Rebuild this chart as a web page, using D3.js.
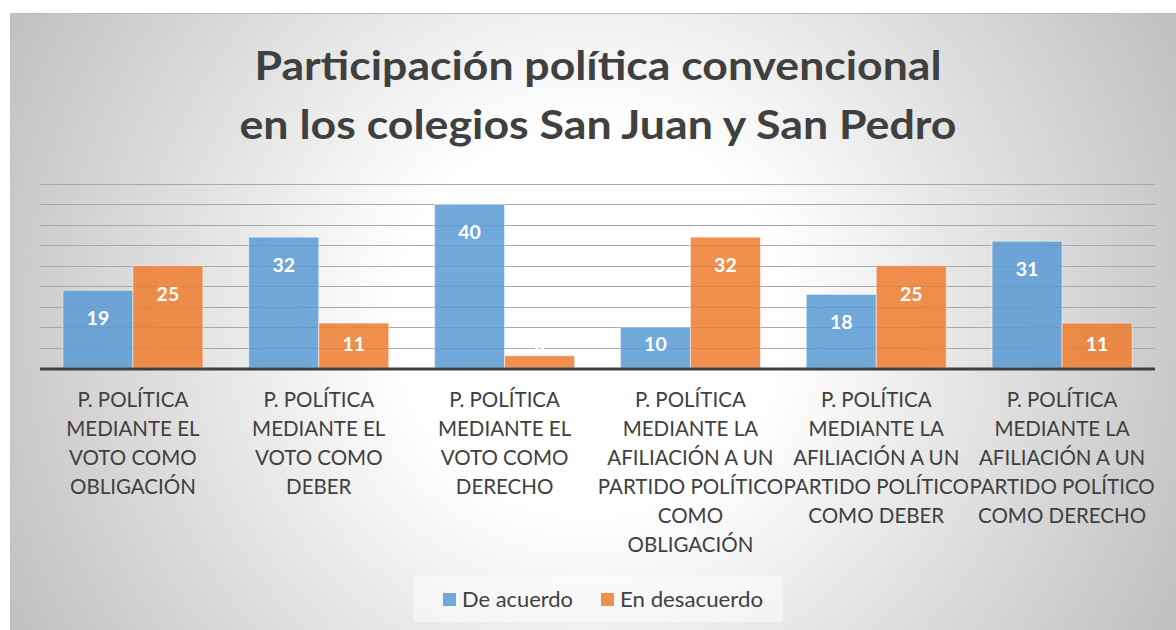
<!DOCTYPE html>
<html><head><meta charset="utf-8">
<script src="https://cdn.jsdelivr.net/npm/d3@7"></script>
<style>html,body{margin:0;padding:0;background:#fff;}svg{display:block;}</style>
</head><body>
<script>
const titleLines = ["Participación política convencional", "en los colegios San Juan y San Pedro"];
const categories = [
  ["P. POLÍTICA", "MEDIANTE EL", "VOTO COMO", "OBLIGACIÓN"],
  ["P. POLÍTICA", "MEDIANTE EL", "VOTO COMO", "DEBER"],
  ["P. POLÍTICA", "MEDIANTE EL", "VOTO COMO", "DERECHO"],
  ["P. POLÍTICA", "MEDIANTE LA", "AFILIACIÓN A UN", "PARTIDO POLÍTICO", "COMO", "OBLIGACIÓN"],
  ["P. POLÍTICA", "MEDIANTE LA", "AFILIACIÓN A UN", "PARTIDO POLÍTICO", "COMO DEBER"],
  ["P. POLÍTICA", "MEDIANTE LA", "AFILIACIÓN A UN", "PARTIDO POLÍTICO", "COMO DERECHO"]
];
const seriesNames = ["De acuerdo", "En desacuerdo"];
const deAcuerdo = [19, 32, 40, 10, 18, 31];
const enDesacuerdo = [25, 11, 3, 32, 25, 11];
const yTicks = [0, 5, 10, 15, 20, 25, 30, 35, 40, 45];
const colors = ["#5B9BD5", "#ED7D31"];

const W = 1176, H = 630;
const svg = d3.select("body").append("svg").attr("width", W).attr("height", H);
const defs = svg.append("defs");
const grad = defs.append("radialGradient").attr("id", "bg")
  .attr("gradientUnits", "userSpaceOnUse")
  .attr("cx", 590).attr("cy", 320).attr("r", 640);
grad.append("stop").attr("offset", 0).attr("stop-color", "#ffffff");
grad.append("stop").attr("offset", 0.3).attr("stop-color", "#ffffff");
grad.append("stop").attr("offset", 1).attr("stop-color", "#c2c2c2");

svg.append("rect").attr("x", 10).attr("y", 13).attr("width", W - 10).attr("height", H - 13)
  .attr("fill", "url(#bg)");
svg.append("line").attr("x1", 10).attr("x2", W).attr("y1", 13.5).attr("y2", 13.5)
  .attr("stroke", "#bdbdbd").attr("stroke-width", 1);

const font = "Lato, 'Open Sans', sans-serif";

// title
const titleWidths = [687, 717];
svg.append("g").selectAll("text").data(titleLines).join("text")
  .attr("x", 598).attr("y", (d, i) => 80 + i * 58.5)
  .attr("text-anchor", "middle")
  .attr("font-family", font).attr("font-weight", "bold").attr("font-size", 40)
  .attr("textLength", (d, i) => titleWidths[i]).attr("lengthAdjust", "spacingAndGlyphs")
  .attr("fill", "#404040")
  .text(d => d);

const plotLeft = 40, plotRight = 1155, plotBase = 368, plotTop = 184;
const x = d3.scaleBand().domain(d3.range(categories.length)).range([plotLeft, plotRight]).paddingInner(0).paddingOuter(0);
const y = d3.scaleLinear().domain([0, 45]).range([plotBase, plotTop]);

// gridlines
svg.append("g").selectAll("line").data(yTicks.filter(t => t > 0)).join("line")
  .attr("x1", plotLeft).attr("x2", plotRight)
  .attr("y1", d => Math.round(y(d)) + 0.5).attr("y2", d => Math.round(y(d)) + 0.5)
  .attr("stroke", "#a9a9a9").attr("stroke-width", 1);

const bw = 70;
const series = [deAcuerdo, enDesacuerdo];
const gBars = svg.append("g");
series.forEach((vals, s) => {
  gBars.selectAll(null).data(vals).join("rect")
    .attr("x", (d, i) => x(i) + x.bandwidth() / 2 - bw + s * bw)
    .attr("y", d => y(d))
    .attr("width", bw).attr("height", d => plotBase - y(d))
    .attr("fill", colors[s]).attr("fill-opacity", 0.86)
    .attr("stroke", "#ffffff").attr("stroke-opacity", 0.5).attr("stroke-width", 1);
  gBars.selectAll(null).data(vals).join("text")
    .attr("x", (d, i) => x(i) + x.bandwidth() / 2 - bw / 2 + s * bw)
    .attr("y", d => Math.min(y(d) + 28, plotBase - 24) + 7)
    .attr("text-anchor", "middle")
    .attr("font-family", font).attr("font-weight", "bold").attr("font-size", 19.5)
    .attr("fill", "#ffffff")
    .text(d => d);
});

// baseline
svg.append("line").attr("x1", plotLeft).attr("x2", plotRight).attr("y1", plotBase + 1).attr("y2", plotBase + 1)
  .attr("stroke", "#404040").attr("stroke-width", 3);

// category labels
const gCat = svg.append("g");
categories.forEach((lines, i) => {
  gCat.append("g").selectAll("text").data(lines).join("text")
    .attr("x", x(i) + x.bandwidth() / 2)
    .attr("y", (d, j) => 406.7 + j * 29)
    .attr("text-anchor", "middle")
    .attr("font-family", font).attr("font-size", 20.5)
    .attr("fill", "#404040")
    .text(d => d);
});

// legend
const lg = svg.append("g");
lg.append("rect").attr("x", 413).attr("y", 576).attr("width", 370).attr("height", 46)
  .attr("fill", "#ffffff").attr("fill-opacity", 0.45);
const legX = [443, 601];
const legW = [111, 143];
seriesNames.forEach((n, s) => {
  lg.append("rect").attr("x", legX[s]).attr("y", 593).attr("width", 13).attr("height", 13)
    .attr("fill", colors[s]).attr("fill-opacity", 0.86);
  lg.append("text").attr("x", legX[s] + 19).attr("y", 606.5)
    .attr("font-family", font).attr("font-size", 21)
    .attr("textLength", legW[s]).attr("lengthAdjust", "spacingAndGlyphs")
    .attr("fill", "#404040").text(n);
});
</script>
</body></html>
